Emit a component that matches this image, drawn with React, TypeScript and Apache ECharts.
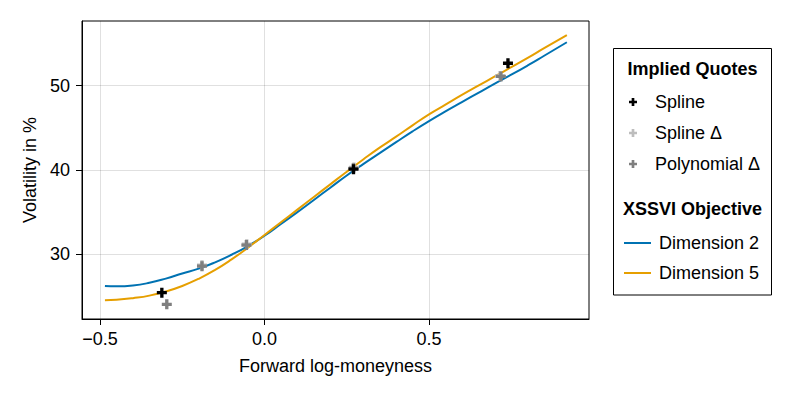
import React, { useEffect, useRef } from "react";
import * as echarts from "echarts";

const xTicks = [-0.5, 0, 0.5];
const xTickLabels = ["−0.5", "0.0", "0.5"];
const yTicks = [30, 40, 50];
const yTickLabels = ["30", "40", "50"];

const curveX = [-0.485, -0.45, -0.4, -0.35, -0.3, -0.25, -0.2, -0.15, -0.1, -0.05, 0.0, 0.05, 0.1, 0.15, 0.2, 0.25, 0.3, 0.35, 0.4, 0.45, 0.5, 0.55, 0.6, 0.65, 0.7, 0.75, 0.8, 0.85, 0.919];
const dimension2 = [26.25, 26.2, 26.3, 26.62, 27.12, 27.72, 28.3, 29.05, 29.95, 30.98, 32.2, 33.6, 35.0, 36.45, 37.9, 39.35, 40.7, 42.0, 43.3, 44.58, 45.8, 46.95, 48.05, 49.15, 50.25, 51.3, 52.4, 53.55, 55.15];
const dimension5 = [24.55, 24.6, 24.8, 25.1, 25.6, 26.25, 27.1, 28.15, 29.4, 30.8, 32.3, 33.8, 35.3, 36.8, 38.3, 39.8, 41.25, 42.65, 43.95, 45.3, 46.6, 47.75, 48.9, 50.0, 51.1, 52.2, 53.3, 54.45, 56.0];

const splineX = [-0.312, 0.2705, 0.74];
const splineY = [25.45, 40.1, 52.66];
const splineDeltaX = [-0.19, -0.054, 0.272, 0.716];
const splineDeltaY = [28.7, 31.2, 40.3, 51.15];
const polyDeltaX = [-0.297, -0.19, -0.055, 0.27, 0.7185];
const polyDeltaY = [24.07, 28.6, 31.1, 40.2, 51.1];

const FONT = "Liberation Sans, Arial, Helvetica, sans-serif";
const CROSS = "path://M-1,-3L1,-3L1,-1L3,-1L3,1L1,1L1,3L-1,3L-1,1L-3,1L-3,-1L-1,-1Z";
const BLUE = "#0072b2";
const ORANGE = "#e69f00";

const pairs = (xs: number[], ys: number[]) => xs.map((x, i) => [x, ys[i]]);

export default function App() {
  const ref = useRef<HTMLDivElement>(null);
  useEffect(() => {
    if (!ref.current) return;
    const chart = echarts.init(ref.current, null, { renderer: "svg" });
    chart.setOption({
      animation: false,
      backgroundColor: "#ffffff",
      textStyle: { fontFamily: FONT },
      grid: {
        left: 82,
        top: 21,
        width: 507,
        height: 298,
        show: true,
        borderColor: "#000",
        borderWidth: 1,
        outerBoundsMode: "none",
      },
      xAxis: {
        type: "value",
        min: -0.5547,
        max: 0.9863,
        name: "Forward log-moneyness",
        nameLocation: "middle",
        nameGap: 38,
        nameTextStyle: { fontSize: 18, color: "#000", fontFamily: FONT },
        axisLine: { show: true, onZero: false, lineStyle: { color: "#000", width: 1 } },
        axisTick: { show: true, length: 6, lineStyle: { color: "#000" }, customValues: xTicks },
        axisLabel: {
          fontSize: 18,
          color: "#000",
          margin: 11,
          fontFamily: FONT,
          customValues: xTicks,
          formatter: (v: number) => {
            const i = xTicks.findIndex((t) => Math.abs(t - v) < 1e-9);
            return i >= 0 ? xTickLabels[i] : "";
          },
        },
        splitLine: { show: true, lineStyle: { color: "rgba(0,0,0,0.12)", width: 1 } },
      },
      yAxis: {
        type: "value",
        min: 22.33,
        max: 57.67,
        name: "Volatility in %",
        nameLocation: "middle",
        nameGap: 38,
        nameTextStyle: { fontSize: 18, color: "#000", fontFamily: FONT },
        axisLine: { show: true, onZero: false, lineStyle: { color: "#000", width: 1 } },
        axisTick: { show: true, length: 6, lineStyle: { color: "#000" }, customValues: yTicks },
        axisLabel: {
          fontSize: 18,
          color: "#000",
          margin: 12,
          fontFamily: FONT,
          customValues: yTicks,
          formatter: (v: number) => {
            const i = yTicks.findIndex((t) => Math.abs(t - v) < 1e-9);
            return i >= 0 ? yTickLabels[i] : "";
          },
        },
        splitLine: { show: true, lineStyle: { color: "rgba(0,0,0,0.12)", width: 1 } },
      },
      legend: [
        {
          orient: "vertical",
          left: 629,
          top: 93,
          padding: 0,
          itemWidth: 8,
          itemHeight: 8,
          itemGap: 13,
          textStyle: { fontSize: 18, color: "#000", fontFamily: FONT, padding: [0, 0, 0, 13] },
          data: ["Spline", "Spline Δ", "Polynomial Δ"],
        },
        {
          orient: "vertical",
          left: 624,
          top: 234,
          padding: 0,
          itemWidth: 27,
          itemHeight: 2,
          itemGap: 12,
          textStyle: { fontSize: 18, color: "#000", fontFamily: FONT, padding: [0, 0, 0, 3] },
          data: [
            { name: "Dimension 2", icon: "rect" },
            { name: "Dimension 5", icon: "rect" },
          ],
        },
      ],
      graphic: [
        {
          type: "rect",
          shape: { x: 613.5, y: 48.5, width: 158, height: 246.5 },
          style: { fill: "#fff", stroke: "#000", lineWidth: 1 },
          z: -1,
        },
        {
          type: "text",
          x: 692.5,
          y: 68.5,
          style: { text: "Implied Quotes", font: `bold 18px ${FONT}`, fill: "#000", align: "center", verticalAlign: "middle" },
        },
        {
          type: "text",
          x: 692.5,
          y: 208.5,
          style: { text: "XSSVI Objective", font: `bold 18px ${FONT}`, fill: "#000", align: "center", verticalAlign: "middle" },
        },
      ],
      series: [
        {
          name: "Dimension 2",
          type: "line",
          data: pairs(curveX, dimension2),
          smooth: 0.5,
          showSymbol: false,
          symbol: "none",
          lineStyle: { color: BLUE, width: 2 },
          itemStyle: { color: BLUE },
          z: 2,
        },
        {
          name: "Dimension 5",
          type: "line",
          data: pairs(curveX, dimension5),
          smooth: 0.5,
          showSymbol: false,
          symbol: "none",
          lineStyle: { color: ORANGE, width: 2 },
          itemStyle: { color: ORANGE },
          z: 3,
        },
        {
          name: "Spline Δ",
          type: "scatter",
          data: pairs(splineDeltaX, splineDeltaY),
          symbol: CROSS,
          symbolSize: 10,
          itemStyle: { color: "#bdbdbd", opacity: 1 },
          z: 4,
        },
        {
          name: "Polynomial Δ",
          type: "scatter",
          data: pairs(polyDeltaX, polyDeltaY),
          symbol: CROSS,
          symbolSize: 10,
          itemStyle: { color: "#7f7f7f", opacity: 1 },
          z: 5,
        },
        {
          name: "Spline",
          type: "scatter",
          data: pairs(splineX, splineY),
          symbol: CROSS,
          symbolSize: 10,
          itemStyle: { color: "#000", opacity: 1 },
          z: 6,
        },
      ],
    });
    return () => chart.dispose();
  }, []);
  return (
    <div
      ref={ref}
      style={{ position: "fixed", left: 0, top: 0, width: 793, height: 397, background: "#fff" }}
    />
  );
}
